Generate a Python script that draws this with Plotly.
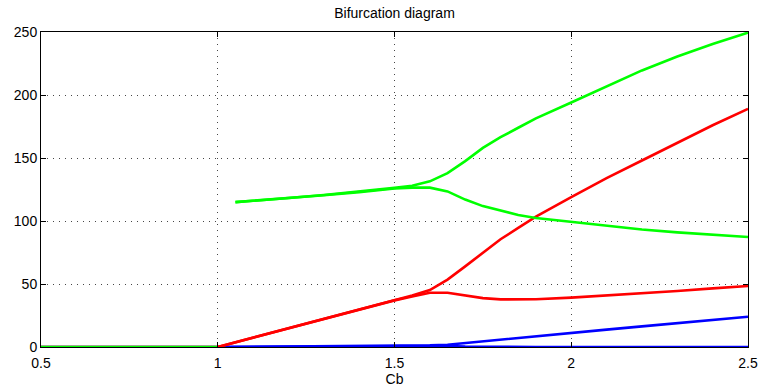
import plotly.graph_objects as go

# Control parameter values and the branches of the bifurcation diagram
cb_trivial = [0.5, 1.0]
y_trivial = [0.0, 0.0]

# Red branch: linear growth from Cb = 1, splitting near Cb = 1.6
cb_red = [1.0, 1.1, 1.2, 1.3, 1.4, 1.5, 1.55, 1.6, 1.65, 1.7, 1.75, 1.8, 1.85, 1.9,
          2.0, 2.1, 2.2, 2.3, 2.4, 2.5]
red_upper = [0.0, 7.5, 15.0, 22.4, 29.8, 37.2, 40.8, 45.2, 53.5, 64.0, 74.8, 85.5, 94.5,
             103.5, 119.0, 134.0, 148.0, 162.0, 176.0, 189.0]
red_lower = [0.0, 7.5, 15.0, 22.4, 29.8, 37.0, 40.0, 43.0, 43.0, 40.8, 38.8, 37.8, 37.6,
             37.9, 39.2, 40.8, 42.5, 44.5, 46.5, 48.4]

# Green branch: appears at Cb = 1.05 and splits near Cb = 1.6
cb_green = [1.05, 1.1, 1.2, 1.3, 1.4, 1.5, 1.55, 1.6, 1.65, 1.7, 1.75, 1.8, 1.85, 1.9,
            2.0, 2.1, 2.2, 2.3, 2.4, 2.5]
green_upper = [115.0, 116.0, 118.2, 120.6, 123.2, 126.3, 128.0, 131.5, 138.0, 147.5,
               158.0, 166.5, 174.0, 181.5, 194.0, 207.0, 219.5, 230.5, 240.5, 249.5]
green_lower = [115.0, 116.0, 118.0, 120.4, 122.9, 125.8, 126.5, 126.5, 123.5, 117.0,
               111.8, 108.0, 104.8, 102.4, 99.3, 96.0, 93.3, 91.0, 89.0, 87.3]

# Blue branch: near zero, one part rising after Cb = 1.6
cb_blue = [1.0, 1.1, 1.2, 1.3, 1.4, 1.5, 1.55, 1.6, 1.65, 1.7, 1.75, 1.8, 1.9, 2.0,
           2.1, 2.2, 2.3, 2.4, 2.5]
blue_upper = [0.0, 0.2, 0.3, 0.5, 0.7, 0.9, 1.1, 1.3, 1.8, 3.2, 4.6, 6.0, 8.6, 11.2,
              13.8, 16.4, 19.0, 21.5, 24.0]
blue_lower = [0.0, 0.2, 0.3, 0.5, 0.7, 0.9, 1.1, 1.2, 0.8, 0.3, 0.1, 0.0, 0.0, 0.0,
              0.0, 0.0, 0.0, 0.0, 0.0]

RED, GREEN, BLUE = "#ff0000", "#00ff00", "#0000ff"
LW = 2.6
FONT = "Liberation Sans, Arial, sans-serif"

fig = go.Figure()

def add(x, y, color):
    fig.add_trace(go.Scatter(x=x, y=y, mode="lines",
                             line=dict(color=color, width=LW),
                             showlegend=False, hoverinfo="skip", cliponaxis=False))

add(cb_trivial, y_trivial, BLUE)
add(cb_blue, blue_lower, BLUE)
add(cb_blue, blue_upper, BLUE)
add(cb_trivial, y_trivial, RED)
add(cb_red, red_lower, RED)
add(cb_red, red_upper, RED)
add(cb_trivial, y_trivial, GREEN)
add(cb_green, green_lower, GREEN)
add(cb_green, green_upper, GREEN)

axis_common = dict(
    showline=True, linecolor="black", linewidth=1, mirror="allticks",
    ticks="inside", ticklen=5, tickcolor="black", tickwidth=1,
    showgrid=True, gridcolor="rgb(70,70,70)", gridwidth=1, griddash="1px,5px",
    zeroline=False, automargin=False,
    tickfont=dict(family=FONT, size=14, color="black"),
)

fig.update_xaxes(range=[0.5, 2.5], tickvals=[0.5, 1, 1.5, 2, 2.5],
                 ticktext=["0.5", "1", "1.5", "2", "2.5"],
                 ticklabelstandoff=3,
                 title=dict(text="Cb", standoff=2,
                            font=dict(family=FONT, size=14, color="black")),
                 **axis_common)
fig.update_yaxes(range=[0, 250], tickvals=[0, 50, 100, 150, 200, 250],
                 **axis_common)

fig.update_layout(
    width=762, height=391,
    margin=dict(l=41, r=14, t=32, b=44),
    paper_bgcolor="white", plot_bgcolor="white",
    title=dict(text="Bifurcation diagram", x=0.5, xref="paper",
               y=1 - 13 / 391, yref="container", yanchor="middle",
               font=dict(family=FONT, size=14, color="black")),
)

fig.write_html("out.html")
